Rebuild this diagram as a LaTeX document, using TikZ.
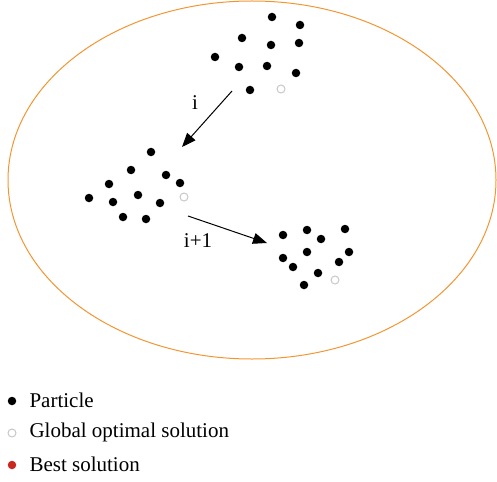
\documentclass[tikz,border=0pt]{standalone}
\usepackage{fontspec}
\setmainfont{Liberation Serif}
\usepackage{tikz}
\usetikzlibrary{arrows.meta}
\definecolor{swarmorange}{RGB}{242,150,52}
\definecolor{bestred}{RGB}{200,40,30}
\definecolor{gbestgray}{RGB}{200,200,200}

\begin{document}
\begin{tikzpicture}[x=1pt,y=-1pt,every node/.style={font=\fontsize{21}{25}\selectfont},
  particle/.style={circle,fill=black,inner sep=0pt,minimum size=8.5pt},
  gbest/.style={circle,draw=gbestgray,line width=1pt,fill=white,inner sep=0pt,minimum size=8pt},
  bestsol/.style={circle,fill=bestred,inner sep=0pt,minimum size=8.5pt},
  moveto/.style={-{Triangle[length=14pt,width=11pt]},line width=1pt}]
\useasboundingbox (0,0) rectangle (497,481);
% search space
\draw[swarmorange,line width=1pt] (252,180) ellipse (244 and 179);
% swarm at iteration i
\node[particle] (a1) at (272,17) {};
\node[particle] (a2) at (300,25) {};
\node[particle] (a3) at (242,38) {};
\node[particle] (a4) at (271,45) {};
\node[particle] (a5) at (299,43) {};
\node[particle] (a6) at (215,57) {};
\node[particle] (a7) at (239,67) {};
\node[particle] (a8) at (267,66) {};
\node[particle] (a9) at (296,73) {};
\node[particle] (a10) at (250,90) {};
\node[gbest] (ag) at (281,89) {};
% swarm after one move
\node[particle] (b1) at (151,152) {};
\node[particle] (b2) at (131,170) {};
\node[particle] (b3) at (166,175) {};
\node[particle] (b4) at (109,184) {};
\node[particle] (b5) at (180,183) {};
\node[particle] (b6) at (89,198) {};
\node[particle] (b7) at (113,202) {};
\node[particle] (b8) at (138,195) {};
\node[particle] (b9) at (160,203) {};
\node[particle] (b10) at (123,217) {};
\node[particle] (b11) at (146,219) {};
\node[gbest] (bg) at (184,197) {};
% swarm at i+1
\node[particle] (c1) at (283,235) {};
\node[particle] (c2) at (307,230) {};
\node[particle] (c3) at (321,239) {};
\node[particle] (c4) at (345,229) {};
\node[particle] (c5) at (283,258) {};
\node[particle] (c6) at (293,267) {};
\node[particle] (c7) at (307,252) {};
\node[particle] (c8) at (349,252) {};
\node[particle] (c9) at (339,262) {};
\node[particle] (c10) at (318,273) {};
\node[particle] (c11) at (304,285) {};
\node[gbest] (cg) at (335,280) {};
% moves
\coordinate (m1s) at (232,91);
\coordinate (m1e) at (182,147);
\coordinate (m2s) at (188,216);
\coordinate (m2e) at (267,243);
\draw[moveto] (m1s) -- (m1e);
\draw[moveto] (m2s) -- (m2e);
\node (li) at (195,103) {i};
\node (lii) at (198,241) {i+1};
% legend
\node[particle] (kp) at (12,401) {};
\node[anchor=west] (tp) at (26,400) {Particle};
\node[gbest] (kg) at (12,433) {};
\node[anchor=west] (tg) at (26,432) {Global optimal solution};
\node[bestsol] (kb) at (12,465) {};
\node[anchor=west] (tb) at (26,464) {Best solution};
\end{tikzpicture}
\end{document}
